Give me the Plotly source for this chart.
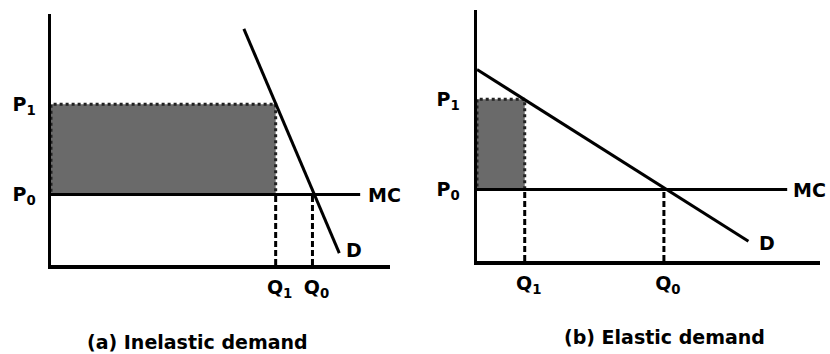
import plotly.graph_objects as go

# ---- data (arbitrary economic units) ----
# Panel (a): inelastic demand
a_P0, a_P1 = 7.1, 16.2
a_Q1, a_Q0 = 22.6, 26.3
a_demand_x = [19.4, 29.0]
a_demand_y = [23.8, 1.2]
a_mc_end = 31.1
a_xmax, a_ymax = 34.1, 25.3

# Panel (b): elastic demand
b_P0, b_P1 = 7.2, 16.3
b_Q1, b_Q0 = 4.8, 18.8
b_demand_x = [0.0, 27.3]
b_demand_y = [19.3, 2.0]
b_mc_end = 31.2
b_xmax, b_ymax = 34.5, 25.3

p_ticktext = ["P<sub>0</sub>", "P<sub>1</sub>"]
q_ticktext = ["Q<sub>1</sub>", "Q<sub>0</sub>"]
captions = ["(a) Inelastic demand", "(b) Elastic demand"]

FONT = "DejaVu Sans"
W, H = 830, 354
SHADE = "#6a6a6a"
INK = "black"

fig = go.Figure()


def panel(xa, ya, P0, P1, Q1, Q0, dx, dy, mc_end):
    # shaded rectangle with dotted outline
    fig.add_trace(go.Scatter(x=[0, Q1, Q1, 0, 0], y=[P0, P0, P1, P1, P0],
                             fill="toself", fillcolor=SHADE, mode="lines",
                             line=dict(color="#222", width=3, dash="dot"),
                             xaxis=xa, yaxis=ya, hoverinfo="skip"))
    # MC line
    fig.add_trace(go.Scatter(x=[0, mc_end], y=[P0, P0], mode="lines",
                             line=dict(color=INK, width=3),
                             xaxis=xa, yaxis=ya, hoverinfo="skip"))
    # dashed drops
    for q in (Q1, Q0):
        fig.add_trace(go.Scatter(x=[q, q], y=[0, P0], mode="lines",
                                 line=dict(color=INK, width=3, dash="6px,3px"),
                                 xaxis=xa, yaxis=ya, hoverinfo="skip"))
    # demand
    fig.add_trace(go.Scatter(x=dx, y=dy, mode="lines",
                             line=dict(color=INK, width=3),
                             xaxis=xa, yaxis=ya, hoverinfo="skip"))


panel("x", "y", a_P0, a_P1, a_Q1, a_Q0, a_demand_x, a_demand_y, a_mc_end)
panel("x2", "y2", b_P0, b_P1, b_Q1, b_Q0, b_demand_x, b_demand_y, b_mc_end)

tickfont = dict(family=FONT, size=19, color=INK, weight="bold")
axcommon = dict(showgrid=False, zeroline=False, showline=True, linecolor=INK,
                linewidth=3.5, ticks="", tickfont=tickfont, fixedrange=True)


def dom_x(l, r):
    return [l / W, r / W]


def dom_y(b, t):
    return [(H - b) / H, (H - t) / H]


fig.update_layout(
    width=W, height=H, margin=dict(l=0, r=0, t=0, b=0),
    paper_bgcolor="white", plot_bgcolor="white", showlegend=False,
    xaxis=dict(domain=dom_x(51, 390), range=[0, a_xmax], anchor="y",
               tickmode="array", tickvals=[a_Q1, a_Q0], ticktext=q_ticktext,
               ticklabelstandoff=3, ticklabelshift=4, **axcommon),
    yaxis=dict(domain=dom_y(265, 14), range=[0, a_ymax], anchor="x",
               tickmode="array", tickvals=[a_P0, a_P1], ticktext=p_ticktext,
               ticklabelstandoff=8, **axcommon),
    xaxis2=dict(domain=dom_x(477, 820), range=[0, b_xmax], anchor="y2",
                tickmode="array", tickvals=[b_Q1, b_Q0], ticktext=q_ticktext,
                ticklabelstandoff=3, ticklabelshift=4, **axcommon),
    yaxis2=dict(domain=dom_y(261, 10), range=[0, b_ymax], anchor="x2",
                tickmode="array", tickvals=[b_P0, b_P1], ticktext=p_ticktext,
                ticklabelstandoff=10, **axcommon),
)

lab = dict(family=FONT, size=19, color=INK, weight="bold")
ann = [
    dict(x=a_mc_end, y=a_P0, xref="x", yref="y", text="MC", showarrow=False,
         xanchor="left", yanchor="middle", xshift=6, font=lab),
    dict(x=a_demand_x[1], y=a_demand_y[1], xref="x", yref="y", text="D",
         showarrow=False, xanchor="left", yanchor="middle", xshift=5, yshift=3, font=lab),
    dict(x=b_mc_end, y=b_P0, xref="x2", yref="y2", text="MC", showarrow=False,
         xanchor="left", yanchor="middle", xshift=4, font=lab),
    dict(x=b_demand_x[1], y=b_demand_y[1], xref="x2", yref="y2", text="D",
         showarrow=False, xanchor="left", yanchor="middle", xshift=9, yshift=-2, font=lab),
    dict(x=197 / W, y=(H - 342) / H, xref="paper", yref="paper", text=captions[0],
         showarrow=False, xanchor="center", yanchor="middle", font=lab),
    dict(x=664 / W, y=(H - 337) / H, xref="paper", yref="paper", text=captions[1],
         showarrow=False, xanchor="center", yanchor="middle", font=lab),
]
fig.update_layout(annotations=ann)

fig.write_html("out.html",
               config={"displayModeBar": False, "staticPlot": True},
               post_script="document.body.style.margin='0';"
                           "document.body.style.overflow='hidden';")
